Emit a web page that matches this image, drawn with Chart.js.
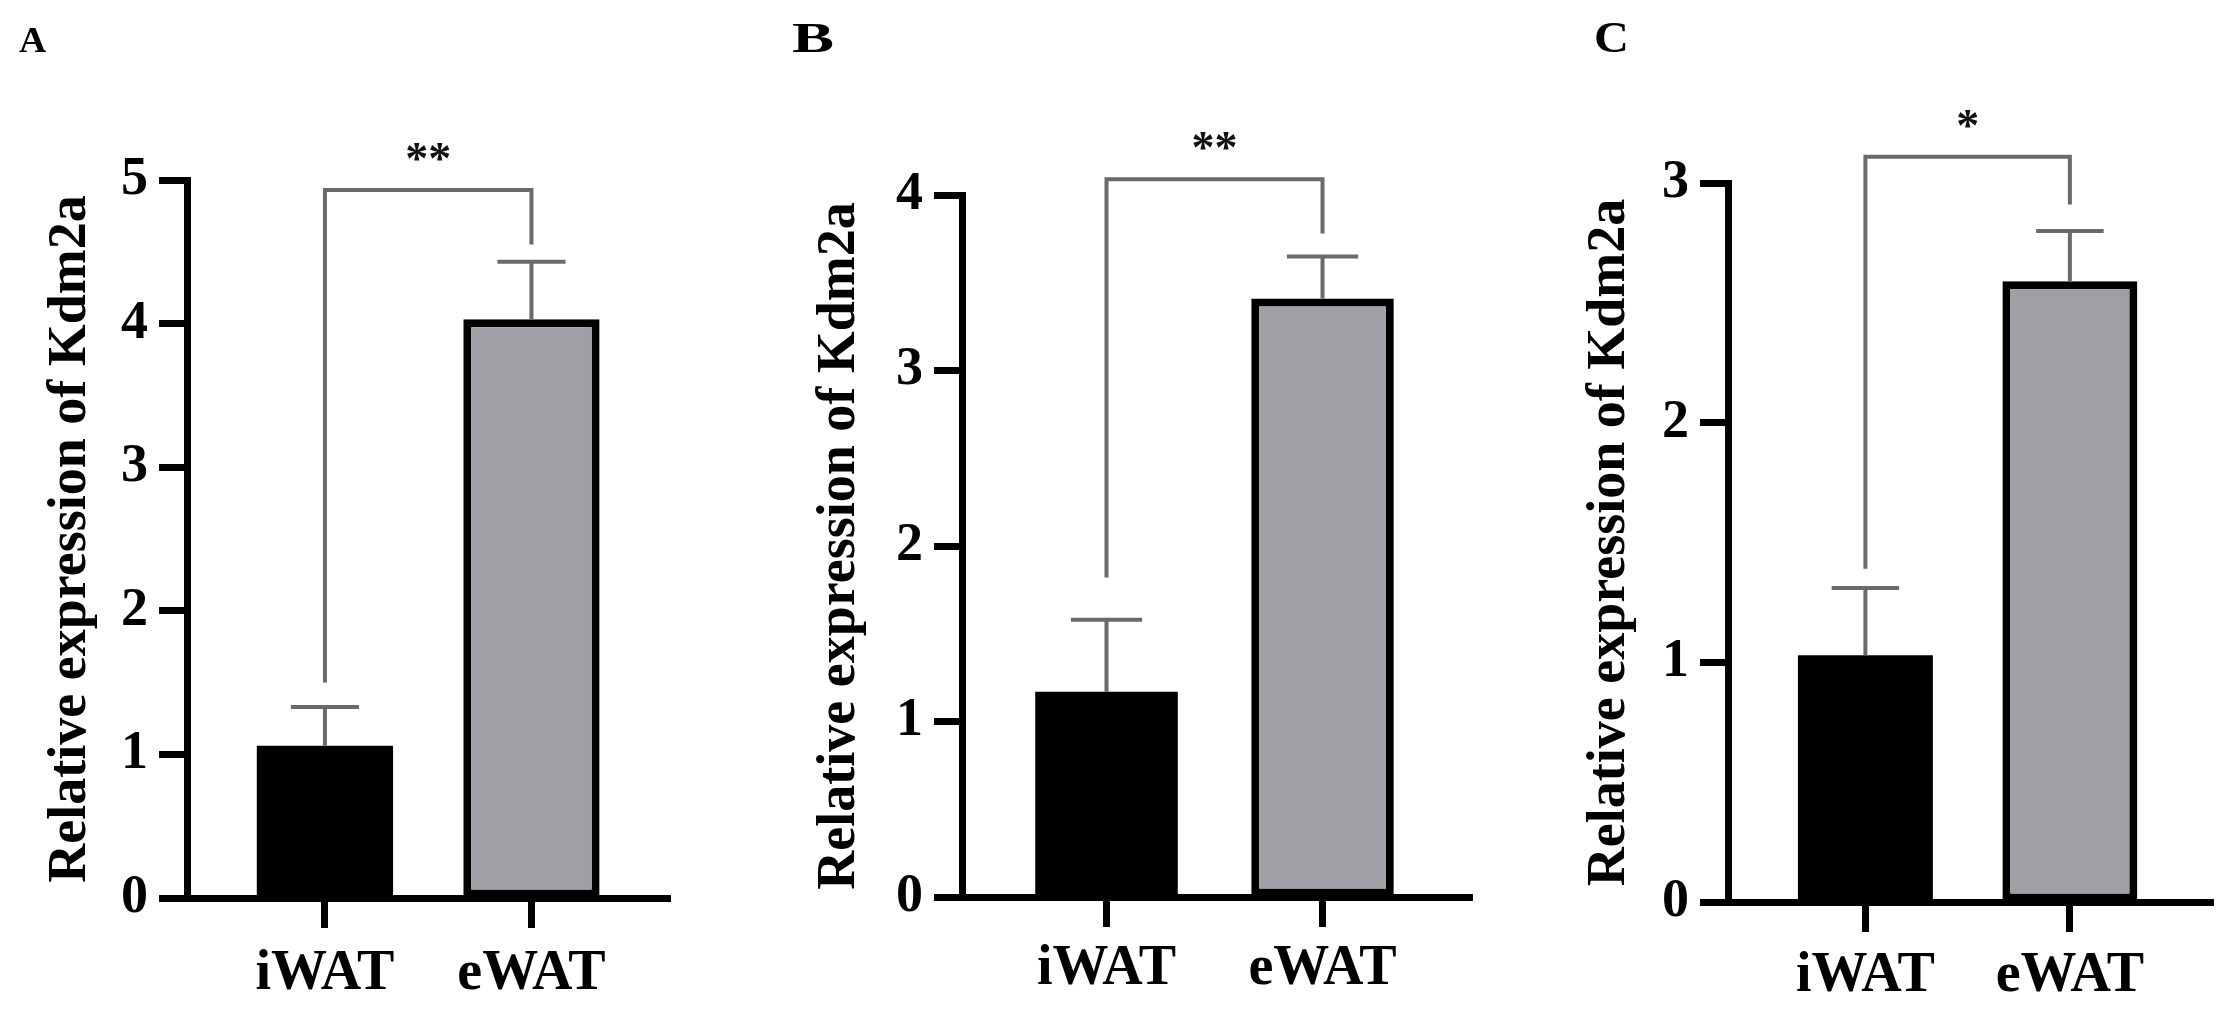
<!DOCTYPE html>
<html>
<head>
<meta charset="utf-8">
<title>Kdm2a expression</title>
<script src="https://cdn.jsdelivr.net/npm/chart.js@4.4.1/dist/chart.umd.min.js"></script>
<style>
  html, body { margin: 0; padding: 0; background: #fff; }
  #wrap { position: relative; width: 2222px; height: 1017px; }
  canvas { position: absolute; top: 0; }
</style>
</head>
<body>
<div id="wrap">
  <canvas id="chartA" width="740" height="1017" style="left:0px"></canvas>
  <canvas id="chartB" width="740" height="1017" style="left:740px"></canvas>
  <canvas id="chartC" width="742" height="1017" style="left:1480px"></canvas>
</div>
<script>
const categories = ['iWAT', 'eWAT'];
const yTitle = 'Relative expression of Kdm2a';

// panel A
const meansA = [1.06, 4.03];
const errorsA = [0.27, 0.40];
const bracketA = 4.93;
const bracketLegsA = [1.50, 4.55];
const starsA = '**';
const yTicksMaxA = 5;

// panel B
const meansB = [1.17, 3.41];
const errorsB = [0.41, 0.24];
const bracketB = 4.09;
const bracketLegsB = [1.82, 3.78];
const starsB = '**';
const yTicksMaxB = 4;

// panel C
const meansC = [1.03, 2.59];
const errorsC = [0.28, 0.21];
const bracketC = 3.11;
const bracketLegsC = [1.39, 2.91];
const starsC = '*';
const yTicksMaxC = 3;

const serif = '"Liberation Serif", "Times New Roman", serif';
const bigFont = { family: serif, size: 54, weight: 'bold' };
const labelFont = { family: serif, size: 56, weight: 'bold' };

// error bars, significance bracket, stars and panel letter
const annotationPlugin = {
  id: 'annotations',
  afterDatasetsDraw(chart, args, opts) {
    const { ctx } = chart;
    const x = chart.scales.x;
    const y = chart.scales.y;
    const bars = chart.getDatasetMeta(0).data;

    ctx.save();
    ctx.strokeStyle = '#6a6a6a';
    ctx.lineWidth = 4;
    bars.forEach((bar, i) => {
      const cx = x.getPixelForValue(i + 1);
      const top = y.getPixelForValue(opts.means[i]);
      const tip = y.getPixelForValue(opts.means[i] + opts.errors[i]);
      const half = bar.width * 0.25;
      ctx.beginPath();
      ctx.moveTo(cx, top);
      ctx.lineTo(cx, tip);
      ctx.moveTo(cx - half, tip);
      ctx.lineTo(cx + half, tip);
      ctx.stroke();
    });

    const x1 = x.getPixelForValue(1);
    const x2 = x.getPixelForValue(2);
    const yb = y.getPixelForValue(opts.bracket);
    ctx.beginPath();
    ctx.moveTo(x1, y.getPixelForValue(opts.legs[0]));
    ctx.lineTo(x1, yb);
    ctx.lineTo(x2, yb);
    ctx.lineTo(x2, y.getPixelForValue(opts.legs[1]));
    ctx.stroke();

    ctx.fillStyle = '#111';
    ctx.textAlign = 'center';
    ctx.textBaseline = 'alphabetic';
    ctx.font = 'bold 46px ' + serif;
    ctx.fillText(opts.stars, (x1 + x2) / 2, yb - 40 + 24);

    ctx.fillStyle = '#000';
    ctx.textAlign = 'left';
    ctx.font = 'bold ' + opts.letterSize + 'px ' + serif;
    ctx.translate(opts.letterX, 52);
    ctx.scale(opts.letterStretch, 1);
    ctx.fillText(opts.letter, 0, 0);
    ctx.restore();
  }
};

function makeChart(id, cfg) {
  return new Chart(document.getElementById(id), {
    type: 'bar',
    data: {
      datasets: [{
        data: categories.map((c, i) => ({ x: i + 1, y: cfg.means[i] })),
        backgroundColor: ['#000000', '#a19fa5'],
        borderColor: '#000000',
        borderWidth: [0, 8],
        borderSkipped: false,
        barPercentage: 0.66,
        categoryPercentage: 1,
      }],
    },
    options: {
      responsive: false,
      animation: false,
      events: [],
      layout: { padding: { left: 0, top: cfg.top, right: cfg.right, bottom: 0 } },
      plugins: {
        legend: { display: false },
        tooltip: { enabled: false },
        annotations: {
          means: cfg.means,
          errors: cfg.errors,
          bracket: cfg.bracket,
          legs: cfg.legs,
          stars: cfg.stars,
          letter: cfg.letter,
          letterX: cfg.letterX,
          letterSize: cfg.letterSize,
          letterStretch: cfg.letterStretch,
        },
      },
      scales: {
        x: {
          type: 'linear',
          offset: false,
          min: cfg.xMin,
          max: cfg.xMax,
          afterBuildTicks: s => { s.ticks = categories.map((c, i) => ({ value: i + 1 })); },
          afterFit: s => { s.height = 1017 - cfg.bottom; },
          ticks: {
            callback: v => categories[Math.round(v) - 1],
            font: labelFont,
            color: '#000',
            padding: cfg.labelPad,
            maxRotation: 0,
            autoSkip: false,
          },
          grid: { offset: false, drawOnChartArea: false, tickLength: 30, tickWidth: 7, tickColor: '#000' },
          border: { width: 7, color: '#000' },
        },
        y: {
          min: 0,
          max: cfg.yMax,
          afterFit: s => { s.width = cfg.axisX; },
          ticks: { stepSize: 1, font: bigFont, color: '#000', padding: 11 },
          grid: { drawOnChartArea: false, tickLength: 28, tickWidth: 7, tickColor: '#000' },
          border: { width: 7, color: '#000' },
          title: {
            display: true,
            text: yTitle,
            font: bigFont,
            color: '#000',
            padding: { top: cfg.titlePad, bottom: 0 },
          },
        },
      },
    },
    plugins: [annotationPlugin],
  });
}

makeChart('chartA', {
  means: meansA, errors: errorsA, bracket: bracketA, legs: bracketLegsA, stars: starsA,
  yMax: yTicksMaxA, letter: 'A', letterX: 19, letterSize: 36, letterStretch: 1.05,
  axisX: 187, top: 180, bottom: 898, right: 70, xMin: 0.332, xMax: 2.671,
  titlePad: 39, labelPad: 13,
});

makeChart('chartB', {
  means: meansB, errors: errorsB, bracket: bracketB, legs: bracketLegsB, stars: starsB,
  yMax: yTicksMaxB, letter: 'B', letterX: 52, letterSize: 42, letterStretch: 1.5,
  axisX: 222, top: 195, bottom: 897, right: 8, xMin: 0.331, xMax: 2.692,
  titlePad: 68, labelPad: 9,
});

makeChart('chartC', {
  means: meansC, errors: errorsC, bracket: bracketC, legs: bracketLegsC, stars: starsC,
  yMax: yTicksMaxC, letter: 'C', letterX: 114, letterSize: 44, letterStretch: 1.1,
  axisX: 248, top: 183, bottom: 902, right: 9, xMin: 0.328, xMax: 2.70,
  titlePad: 98, labelPad: 11,
});
</script>
</body>
</html>
